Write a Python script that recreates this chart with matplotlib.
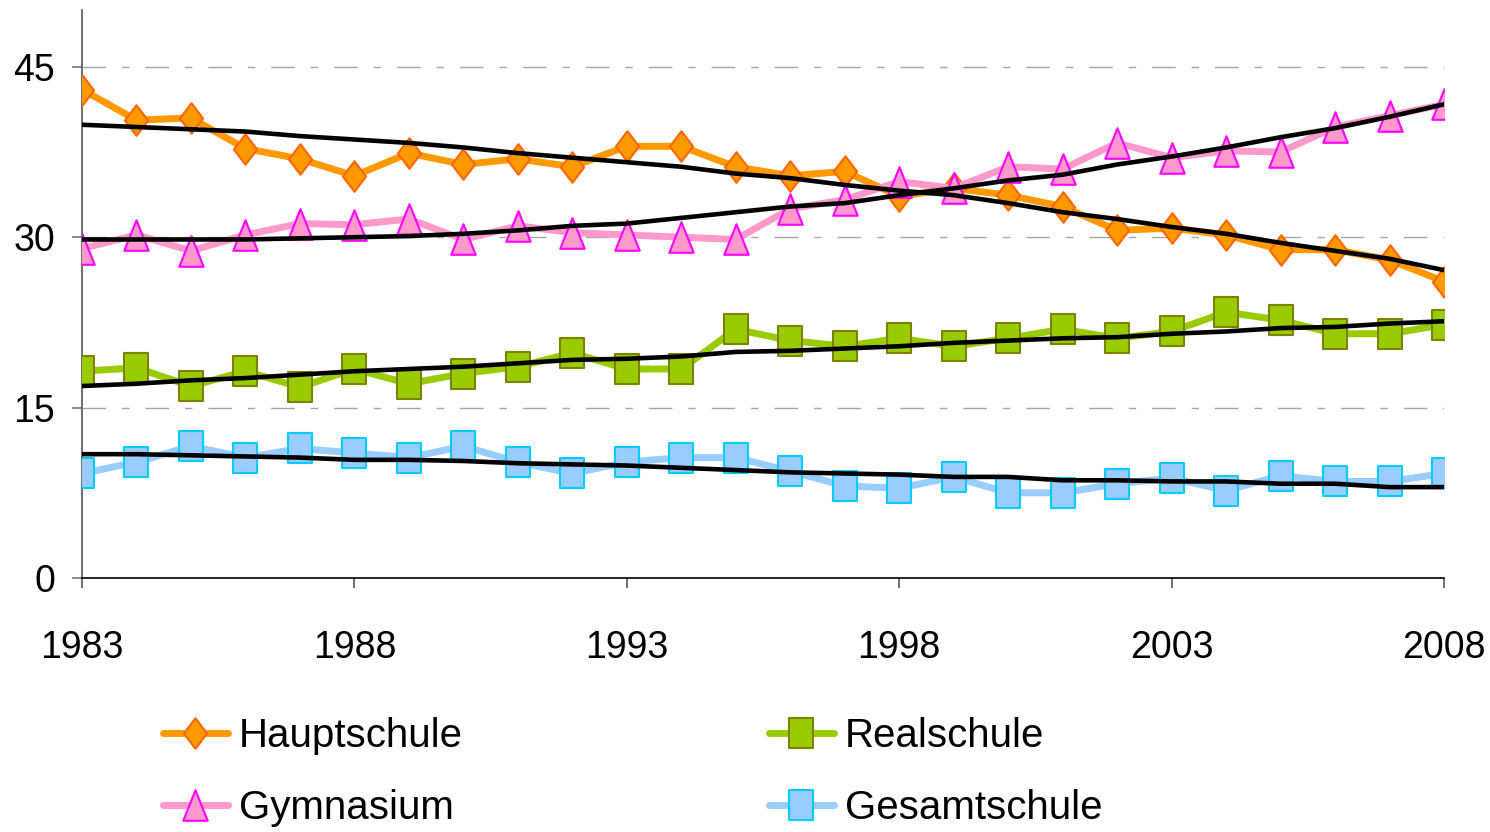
import matplotlib
matplotlib.use("Agg")
import matplotlib.pyplot as plt
from matplotlib import font_manager
from matplotlib.path import Path

# ---------------- data ----------------
years = list(range(1983, 2009))
hauptschule = [43.0, 40.3, 40.5, 37.8, 36.9, 35.4, 37.4, 36.4, 36.9, 36.2, 38.0, 38.0, 36.2,
               35.4, 35.8, 33.6, 34.3, 33.7, 32.7, 30.6, 30.8, 30.2, 28.9, 28.9, 28.0, 26.1]
gymnasium = [29.0, 30.2, 28.8, 30.2, 31.2, 31.1, 31.6, 29.8, 31.0, 30.4, 30.2, 30.0, 29.8,
             32.5, 33.3, 34.9, 34.3, 36.2, 36.0, 38.3, 37.0, 37.6, 37.5, 39.7, 40.7, 41.7]
realschule = [18.2, 18.5, 16.9, 18.2, 16.8, 18.4, 17.1, 18.0, 18.6, 19.8, 18.4, 18.4, 21.9,
              20.9, 20.4, 21.1, 20.4, 21.1, 21.9, 21.1, 21.7, 23.4, 22.7, 21.5, 21.5, 22.3]
gesamtschule = [9.2, 10.2, 11.6, 10.6, 11.4, 11.0, 10.6, 11.6, 10.2, 9.2, 10.2, 10.6, 10.6,
                9.4, 8.1, 7.9, 8.9, 7.5, 7.5, 8.3, 8.8, 7.7, 9.0, 8.5, 8.5, 9.2]

# trend lines
hauptschule_trend = [39.9, 39.7, 39.5, 39.3, 38.9, 38.6, 38.3, 37.9, 37.4, 37.0, 36.6, 36.2, 35.6,
                     35.2, 34.6, 34.1, 33.7, 33.0, 32.2, 31.6, 30.9, 30.3, 29.5, 28.8, 28.1, 27.1]
gymnasium_trend = [29.8, 29.8, 29.8, 29.8, 29.9, 30.0, 30.1, 30.3, 30.6, 31.0, 31.2, 31.7, 32.2,
                   32.7, 33.0, 33.7, 34.3, 35.0, 35.5, 36.4, 37.1, 37.9, 38.8, 39.6, 40.6, 41.7]
realschule_trend = [16.9, 17.1, 17.4, 17.6, 17.9, 18.2, 18.4, 18.6, 18.9, 19.2, 19.3, 19.5, 19.9,
                    20.0, 20.2, 20.4, 20.7, 20.9, 21.1, 21.2, 21.5, 21.7, 22.0, 22.1, 22.4, 22.6]
gesamtschule_trend = [10.9, 10.9, 10.8, 10.7, 10.6, 10.4, 10.4, 10.3, 10.1, 10.0, 9.9, 9.7, 9.5,
                      9.3, 9.2, 9.1, 8.9, 8.9, 8.6, 8.6, 8.5, 8.5, 8.3, 8.3, 8.0, 8.0]

labels = ["Hauptschule", "Realschule", "Gymnasium", "Gesamtschule"]
x_ticks = [1983, 1988, 1993, 1998, 2003, 2008]
y_ticks = [0, 15, 30, 45]

# ---------------- fonts ----------------
names = {f.name for f in font_manager.fontManager.ttflist}
narrow = "Liberation Sans Narrow" in names
family = "Liberation Sans Narrow" if narrow else "Liberation Sans"
plt.rcParams["font.family"] = [family, "DejaVu Sans"]
tick_fs = 32 if narrow else 27
leg_fs = 33 if narrow else 29

# ---------------- markers ----------------
diamond = Path([(0, 1), (0.76, 0), (0, -1), (-0.76, 0), (0, 1)],
               [Path.MOVETO, Path.LINETO, Path.LINETO, Path.LINETO, Path.CLOSEPOLY])
square = Path([(-0.8, -1), (0.8, -1), (0.8, 1), (-0.8, 1), (-0.8, -1)],
              [Path.MOVETO, Path.LINETO, Path.LINETO, Path.LINETO, Path.CLOSEPOLY])
triangle = Path([(0, 1), (0.8, -1), (-0.8, -1), (0, 1)],
                [Path.MOVETO, Path.LINETO, Path.LINETO, Path.CLOSEPOLY])

fig = plt.figure(figsize=(14.9, 8.32), dpi=100)
ax = fig.add_axes([82 / 1490, 1 - 578 / 832, (1444 - 82) / 1490, (578 - 10) / 832])

lw = 5.0
ms = 22
mew = 1.5
h1, = ax.plot(years, hauptschule, color="#FF9900", lw=lw, marker=diamond, ms=ms,
              mfc="#FF9900", mec="#FF6600", mew=mew, zorder=3, solid_capstyle="round")
h2, = ax.plot(years, realschule, color="#99CC00", lw=lw, marker=square, ms=21,
              mfc="#99CC00", mec="#808000", mew=mew, zorder=3, solid_capstyle="round")
h3, = ax.plot(years, gymnasium, color="#FF99CC", lw=lw, marker=triangle, ms=ms,
              mfc="#FF99CC", mec="#FF00FF", mew=mew, zorder=3, solid_capstyle="round")
h4, = ax.plot(years, gesamtschule, color="#99CCFF", lw=lw, marker=square, ms=21,
              mfc="#99CCFF", mec="#00CCFF", mew=mew, zorder=3, solid_capstyle="round")

for tr in (hauptschule_trend, realschule_trend, gymnasium_trend, gesamtschule_trend):
    ax.plot(years, tr, color="black", lw=3.3, zorder=4, solid_capstyle="round")

ax.set_xlim(1983, 2008)
ax.set_ylim(0, 50)
ax.set_xticks(x_ticks)
ax.set_yticks(y_ticks)
ax.set_xticklabels([str(v) for v in x_ticks])
ax.set_yticklabels([str(v) for v in y_ticks])

for y in y_ticks[1:]:
    ax.axhline(y, color="#A6A6A6", lw=1.0, linestyle=(0, (17, 11.5, 5.3, 11.5)), zorder=1)

for s in ("top", "right"):
    ax.spines[s].set_visible(False)
ax.spines["left"].set_color("#555555")
ax.spines["left"].set_linewidth(1.2)
ax.spines["bottom"].set_color("black")
ax.spines["bottom"].set_linewidth(1.2)
ax.spines["left"].set_zorder(2)

ax.tick_params(axis="y", direction="out", length=7.5, width=1.2, color="#777777",
               labelsize=tick_fs, pad=12)
ax.tick_params(axis="x", direction="out", length=7.5, width=1.2, color="#555555",
               labelsize=tick_fs, pad=30)
for lab in ax.get_xticklabels() + ax.get_yticklabels():
    lab.set_clip_on(False)

# legend filled column-wise: col 1 = Hauptschule, Gymnasium; col 2 = Realschule, Gesamtschule
leg = fig.legend([h1, h3, h2, h4], [labels[0], labels[2], labels[1], labels[3]], ncol=2,
                 loc="center left", bbox_to_anchor=(163 / 1490, 1 - 772 / 832), frameon=False,
                 fontsize=leg_fs, handlelength=1.61, handletextpad=0.27,
                 columnspacing=7.6, labelspacing=0.84, borderpad=0, borderaxespad=0)

fig.savefig("out.png", dpi=100)
